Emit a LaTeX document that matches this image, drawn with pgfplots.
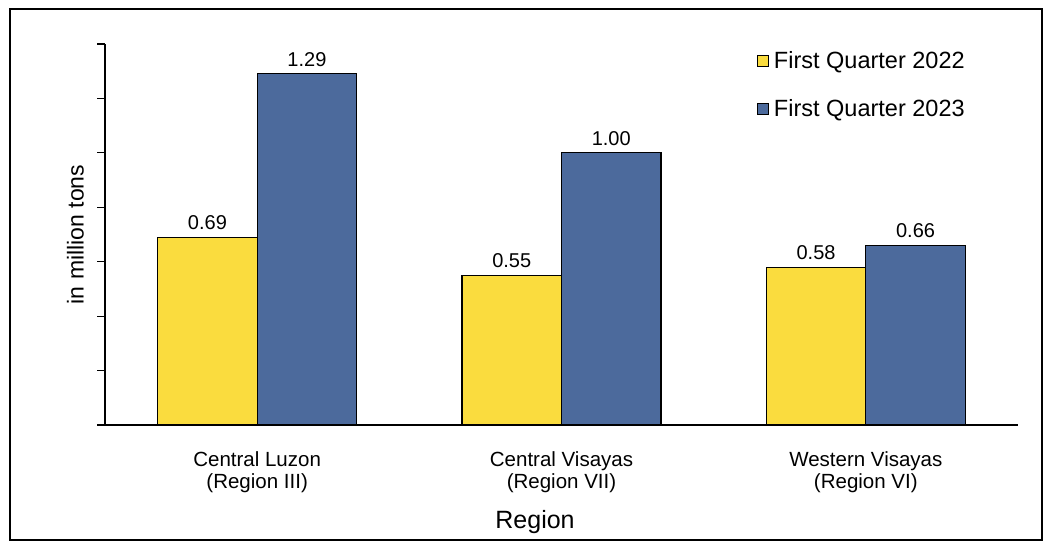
\documentclass[border=0pt]{standalone}
\usepackage{pgfplots}
\pgfplotsset{compat=1.18}
\usepackage{fontspec}
\setmainfont{Liberation Sans}
\definecolor{barYellow}{RGB}{250,220,62}
\definecolor{barBlue}{RGB}{76,106,156}

\begin{document}
\begin{tikzpicture}[x=1pt,y=1pt]
\useasboundingbox (0,0) rectangle (1045,542);
% outer frame
\draw[line width=2pt] (10,2) rectangle (1042,533);
\begin{axis}[
  at={(105pt,117pt)}, anchor=south west,
  scale only axis, width=913pt, height=381pt,
  ybar=0pt, bar width=99.5pt,
  xmin=-0.5, xmax=2.5, ymin=0, ymax=1.4,
  axis x line*=bottom, axis y line*=left,
  axis line style={line width=1.6pt, black},
  /pgf/number format/assume math mode=true,
  xtick={0,1,2},
  xticklabels={{Central Luzon\\(Region III)},{Central Visayas\\(Region VII)},{Western Visayas\\(Region VI)}},
  x tick label style={align=center, font=\fontsize{20.5}{22}\selectfont, inner sep=0pt, anchor=north, yshift=-18pt},
  major x tick style={draw=none},
  ytick={0,0.2,0.4,0.6,0.8,1.0,1.2,1.4},
  yticklabels={},
  tick align=outside,
  major tick length=8pt,
  y tick style={line width=1.2pt, black},
  ylabel={in million tons},
  ylabel style={font=\fontsize{23}{27}\selectfont, inner sep=0pt,
    at={([xshift=-21pt]rel axis cs:0,0.5)}, anchor=south},
  xlabel={Region},
  xlabel style={font=\fontsize{25}{30}\selectfont, inner sep=0pt,
    at={([yshift=-103pt]rel axis cs:0.471,0)}, anchor=base},
  nodes near coords,
  nodes near coords style={font=\fontsize{20}{24}\selectfont, inner sep=0pt, anchor=south, yshift=7pt,
    /pgf/number format/fixed, /pgf/number format/fixed zerofill, /pgf/number format/precision=2,
    /pgf/number format/assume math mode=true},
  legend style={draw=none, fill=none, at={(rel axis cs:0.714,0.9856)}, anchor=north west,
    font=\fontsize{23.5}{27}\selectfont, row sep=25pt, inner sep=0pt,
    nodes={inner sep=2pt}},
  legend cell align=left,
]
\addplot[fill=barYellow, draw=black, line width=1.1pt,
  legend image code/.code={\draw[fill=barYellow, draw=black, line width=0.9pt] (0pt,-5.5pt) rectangle (11pt,5.5pt);}]
  coordinates {(0,0.69) (1,0.55) (2,0.58)};
\addlegendentry{\hspace{3pt}First Quarter 2022}
\addplot[fill=barBlue, draw=black, line width=1.1pt,
  legend image code/.code={\draw[fill=barBlue, draw=black, line width=0.9pt] (0pt,-5.5pt) rectangle (11pt,5.5pt);}]
  coordinates {(0,1.29) (1,1.00) (2,0.66)};
\addlegendentry{\hspace{3pt}First Quarter 2023}
\end{axis}
\end{tikzpicture}
\end{document}
